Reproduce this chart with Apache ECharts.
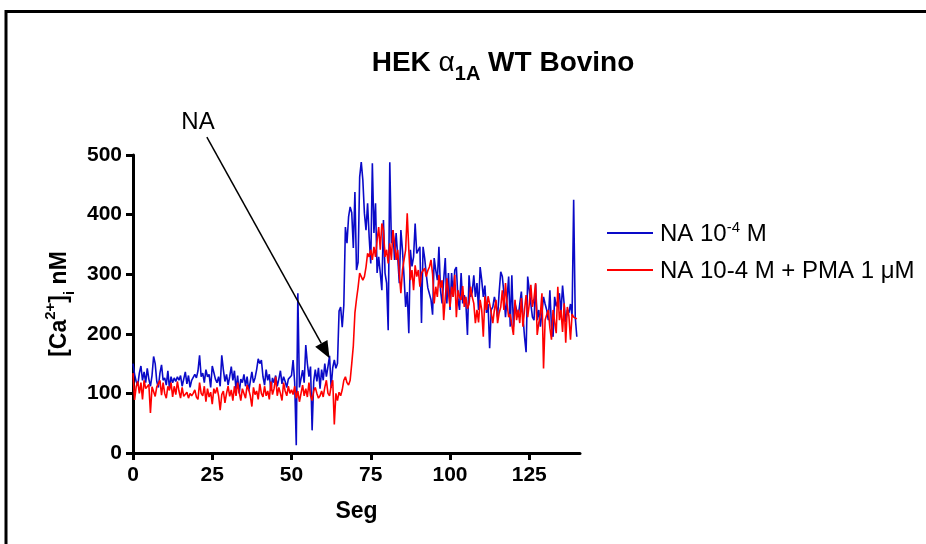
<!DOCTYPE html>
<html>
<head>
<meta charset="utf-8">
<script src="https://cdn.jsdelivr.net/npm/echarts@6/dist/echarts.min.js"></script>
<style>
html,body{margin:0;padding:0;background:#fff;}
#main{width:926px;height:544px;}
</style>
</head>
<body>
<div id="main"></div>
<script>
// sampling interval (seg) of the recording
var step = 0.5;

var seriesNames = ['NA 10-4 M', 'NA 10-4 M + PMA 1 \u03bcM'];

var yTicks = [0, 100, 200, 300, 400, 500];
var xTicks = [0, 25, 50, 75, 100, 125];

// NA 10^-4 M  (blue)
var naValues = [
150,132,120,114,134,146,122,136,118,142,124,112,130,162,150,120,110,134,148,122,126,
114,138,108,128,118,126,120,128,122,130,112,124,136,116,130,110,122,120,132,126,
138,164,128,134,118,140,128,132,110,146,135,124,118,128,112,164,140,120,132,114,
128,145,122,138,106,130,100,124,118,132,112,128,104,120,136,118,126,140,158,150,
156,128,114,140,122,132,104,126,118,130,112,124,138,116,128,120,110,124,122,130,
156,118,13,268,110,125,139,118,181,150,128,145,38,120,140,120,143,108,140,122,
150,128,145,163,109,143,156,142,150,238,245,211,248,379,352,396,413,403,344,438,
307,320,463,488,458,402,374,419,362,318,486,369,419,302,329,302,273,391,302,285,
206,488,352,374,324,369,329,285,374,340,296,245,270,201,341,313,329,385,335,335,
346,218,346,327,300,277,280,257,232,327,307,290,346,273,251,290,327,251,302,240,
302,262,307,312,258,240,302,251,265,251,198,298,262,270,298,262,285,240,312,290,
262,281,235,250,176,240,245,262,250,228,270,304,296,268,228,260,296,212,298,212,
251,240,228,250,271,230,195,169,296,273,250,228,223,283,223,240,212,235,262,250,
240,223,273,212,195,262,246,255,268,235,281,250,220,240,235,250,230,425,228,195
];

// NA 10-4 M + PMA 1 uM  (red)
var pmaValues = [
134,89,111,120,100,118,90,122,108,111,115,67,111,108,95,111,108,122,97,118,100,
92,112,105,118,94,112,98,120,104,92,110,95,98,102,92,100,96,100,106,94,
90,118,100,96,112,86,108,94,102,82,108,100,110,96,72,98,104,84,100,112,
95,106,88,112,96,118,102,88,108,100,92,114,106,96,78,110,98,104,90,116,
100,94,112,96,104,90,120,98,108,128,96,110,100,88,118,104,96,112,100,106,
98,112,92,104,86,100,114,96,108,94,118,96,88,104,110,100,92,96,104,94,
110,122,100,96,112,122,48,100,88,102,96,106,122,128,118,114,122,150,180,235,
258,278,302,296,290,296,312,335,329,341,324,346,329,357,379,341,385,374,329,341,
318,352,324,374,352,324,341,300,268,307,324,341,402,341,290,307,273,315,296,307,
279,302,300,310,296,306,312,324,300,251,279,262,299,277,290,223,260,293,270,245,
279,262,299,228,273,262,257,280,245,262,242,250,279,262,251,218,240,219,257,240,
195,263,240,263,250,235,218,240,257,218,235,245,273,240,285,250,228,233,215,198,
257,223,240,218,260,212,240,265,228,250,282,245,260,285,198,218,233,268,142,223,
232,240,210,190,240,220,201,279,223,240,203,251,185,245,230,190,233,228,228,225
];

function toPairs(values) {
  var out = [];
  for (var i = 0; i < values.length; i++) {
    out.push([i * step, values[i]]);
  }
  return out;
}

var font = 'Liberation Sans, Arial, sans-serif';

var chart = echarts.init(document.getElementById('main'));

var option = {
  animation: false,
  backgroundColor: '#fff',
  title: {
    text: '{a|HEK }{g|\u03b1}{s|1A}{a| WT Bovino}',
    left: 498,
    top: 38,
    textAlign: 'center',
    textStyle: {
      rich: {
        a: { fontFamily: font, fontWeight: 'bold', fontSize: 28, color: '#000', lineHeight: 34, verticalAlign: 'bottom' },
        g: { fontFamily: font, fontWeight: 'normal', fontSize: 28, color: '#000', lineHeight: 34, verticalAlign: 'bottom' },
        s: { fontFamily: font, fontWeight: 'bold', fontSize: 20, color: '#000', lineHeight: 34, verticalAlign: 'bottom', padding: [0, 0, -7, 0] }
      }
    }
  },
  legend: {
    orient: 'vertical',
    left: 602,
    top: 215,
    icon: 'rect',
    itemWidth: 46,
    itemHeight: 2,
    itemGap: 13,
    data: seriesNames,
    formatter: function (name) {
      if (name === seriesNames[0]) {
        return '{t|NA 10}{sup|-4}{t| M}';
      }
      return '{t|' + name + '}';
    },
    textStyle: {
      color: '#000',
      padding: [0, 0, 0, 2],
      rich: {
        t: { fontFamily: font, fontSize: 24, color: '#000', lineHeight: 26, verticalAlign: 'bottom' },
        sup: { fontFamily: font, fontSize: 15, color: '#000', lineHeight: 26, verticalAlign: 'top' }
      }
    }
  },
  grid: {
    left: 133,
    top: 155,
    width: 447,
    height: 298,
    containLabel: false
  },
  xAxis: {
    type: 'value',
    min: 0,
    max: 141,
    interval: 25,
    name: 'Seg',
    nameLocation: 'middle',
    nameGap: 47,
    nameTextStyle: { fontFamily: font, fontWeight: 'bold', fontSize: 23, color: '#000' },
    axisLine: { show: true, onZero: false, lineStyle: { color: '#000', width: 3 } },
    axisTick: { show: true, length: 7, lineStyle: { color: '#000', width: 3 }, customValues: xTicks },
    axisLabel: { margin: 12, fontFamily: font, fontWeight: 'bold', fontSize: 21, color: '#000', customValues: xTicks },
    splitLine: { show: false }
  },
  yAxis: {
    type: 'value',
    min: 0,
    max: 500,
    interval: 100,
    name: '{b|[Ca}{sup|2+}{b|]}{sub|i}{b| nM}',
    nameLocation: 'middle',
    nameRotate: 90,
    nameGap: 56,
    nameTextStyle: {
      rich: {
        b: { fontFamily: font, fontWeight: 'bold', fontSize: 23, color: '#000', lineHeight: 34, verticalAlign: 'middle' },
        sup: { fontFamily: font, fontWeight: 'bold', fontSize: 15, color: '#000', lineHeight: 34, verticalAlign: 'top' },
        sub: { fontFamily: font, fontWeight: 'bold', fontSize: 15, color: '#000', lineHeight: 34, verticalAlign: 'bottom' }
      }
    },
    axisLine: { show: true, onZero: false, lineStyle: { color: '#000', width: 3 } },
    axisTick: { show: true, length: 7, lineStyle: { color: '#000', width: 3 }, customValues: yTicks },
    axisLabel: { margin: 11, fontFamily: font, fontWeight: 'bold', fontSize: 21, color: '#000', customValues: yTicks },
    splitLine: { show: false }
  },
  series: [
    {
      name: seriesNames[0],
      type: 'line',
      data: toPairs(naValues),
      showSymbol: false,
      symbol: 'none',
      color: '#0a0ac8',
      lineStyle: { width: 1.6, color: '#0a0ac8' },
      z: 2
    },
    {
      name: seriesNames[1],
      type: 'line',
      data: toPairs(pmaValues),
      showSymbol: false,
      symbol: 'none',
      color: '#ff0000',
      lineStyle: { width: 1.6, color: '#ff0000' },
      z: 3
    }
  ]
};

chart.setOption(option);

// arrow annotation, anchored in data space
var arrowFrom = chart.convertToPixel({ gridIndex: 0 }, [23.3, 530]);
var arrowTo = chart.convertToPixel({ gridIndex: 0 }, [62, 159]);
var labelPos = chart.convertToPixel({ gridIndex: 0 }, [20.5, 555]);
var dx = arrowTo[0] - arrowFrom[0];
var dy = arrowTo[1] - arrowFrom[1];
var len = Math.sqrt(dx * dx + dy * dy);
var ux = dx / len, uy = dy / len;
var headLen = 17, headW = 7;
var baseX = arrowTo[0] - ux * headLen, baseY = arrowTo[1] - uy * headLen;

chart.setOption({
  graphic: [
    {
      type: 'rect',
      shape: { x: 6, y: 11.5, width: 960, height: 600 },
      style: { fill: 'none', stroke: '#000', lineWidth: 3 },
      silent: true
    },
    {
      type: 'line',
      shape: { x1: arrowFrom[0], y1: arrowFrom[1], x2: baseX, y2: baseY },
      style: { stroke: '#000', lineWidth: 1.5 },
      z: 10
    },
    {
      type: 'polygon',
      shape: {
        points: [
          [arrowTo[0], arrowTo[1]],
          [baseX - uy * headW, baseY + ux * headW],
          [baseX + uy * headW, baseY - ux * headW]
        ]
      },
      style: { fill: '#000' },
      z: 10
    },
    {
      type: 'text',
      x: labelPos[0],
      y: labelPos[1],
      style: {
        text: 'NA',
        fontFamily: font,
        fontSize: 24,
        fill: '#000',
        align: 'center',
        verticalAlign: 'middle'
      },
      z: 10
    }
  ]
});
</script>
</body>
</html>
